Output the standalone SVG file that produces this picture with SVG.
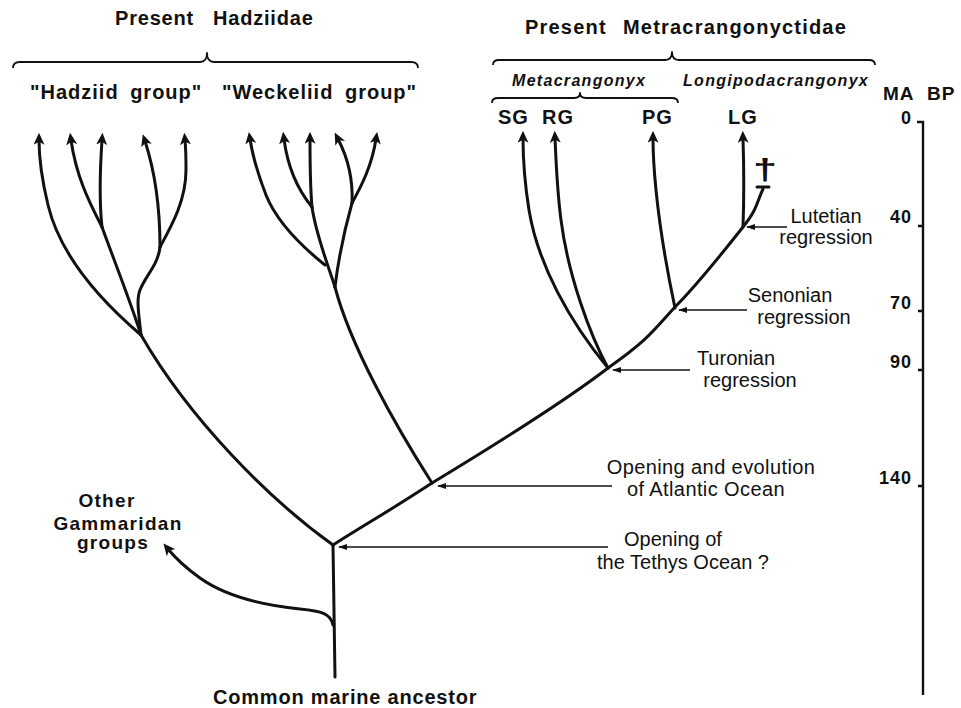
<svg xmlns="http://www.w3.org/2000/svg" width="961" height="708" viewBox="0 0 961 708">
  <defs>
    <style>
      .br { fill: none; stroke: #111; stroke-width: 3; stroke-linecap: round; stroke-linejoin: round; }
      .tip { marker-end: url(#head); }
      .ann { fill: none; stroke: #111; stroke-width: 1.6; marker-end: url(#small); }
      .brace { fill: none; stroke: #111; stroke-width: 1.8; stroke-linejoin: round; }
      .axis { fill: none; stroke: #111; stroke-width: 2.4; }
      .t { font-family: "Liberation Sans", Arial, sans-serif; fill: #111; }
      .b { font-weight: bold; }
      .lab { font-size: 20px; font-weight: bold; letter-spacing: 1px; word-spacing: 5px; }
      .note { font-size: 20px; text-anchor: middle; }
      .gen { font-size: 16px; font-weight: bold; font-style: italic; letter-spacing: 1.3px; }
      .tick { font-size: 18px; font-weight: bold; letter-spacing: 1px; text-anchor: end; }
    </style>
    <marker id="head" viewBox="0 0 10 10" refX="4" refY="5" markerWidth="12" markerHeight="11" markerUnits="userSpaceOnUse" orient="auto" preserveAspectRatio="none">
      <path d="M0,0 L10,5 L0,10 L2.5,5 z" fill="#111"/>
    </marker>
    <marker id="small" viewBox="0 0 10 10" refX="9" refY="5" markerWidth="9" markerHeight="6" markerUnits="userSpaceOnUse" orient="auto" preserveAspectRatio="none">
      <path d="M0,0 L10,5 L0,10 z" fill="#111"/>
    </marker>
  </defs>

  <rect width="961" height="708" fill="#fff"/>

  <!-- group headings and braces -->
  <g id="heading-hadziidae">
    <text class="t b" font-size="20" letter-spacing="0.8" x="115" y="25">Present</text>
    <text class="t b" font-size="20" letter-spacing="0.8" x="213" y="25">Hadziidae</text>
    <path class="brace" d="M13,68 Q13,62 20,62 L200,62 Q207,62 207,53 Q207,62 214,62 L411,62 Q418,62 418,68"/>
    <text class="t lab" x="30" y="99">"Hadziid group"</text>
    <text class="t lab" x="222" y="99">"Weckeliid group"</text>
  </g>

  <g id="heading-metacrangonyctidae">
    <text class="t b" font-size="20" letter-spacing="1.2" x="525" y="34">Present</text>
    <text class="t b" font-size="20" letter-spacing="1.2" x="623" y="34">Metracrangonyctidae</text>
    <path class="brace" d="M493,65 Q493,60 499,60 L665,60 Q672,60 672,52 Q672,60 679,60 L869,60 Q875,60 875,65"/>
    <text class="t gen" x="512" y="86">Metacrangonyx</text>
    <text class="t gen" x="683" y="86">Longipodacrangonyx</text>
    <path class="brace" d="M492,103 Q492,98 498,98 L574,98 Q580,98 580,93 Q580,98 586,98 L672,98 Q678,98 678,103"/>
    <text class="t lab" x="498" y="124">SG</text>
    <text class="t lab" x="542" y="124">RG</text>
    <text class="t lab" x="642" y="124">PG</text>
    <text class="t lab" x="728" y="124">LG</text>
  </g>

  <!-- time scale -->
  <g id="time-axis">
    <text class="t b" font-size="19" letter-spacing="1" x="883" y="100">MA</text>
    <text class="t b" font-size="19" letter-spacing="1" x="927" y="100">BP</text>
    <path class="axis" d="M917,122 L923,122 L923,695"/>
    <path class="axis" d="M918,226 L923,226 M918,311 L923,311 M918,370 L923,370 M918,486 L923,486"/>
    <text class="t tick" x="912" y="124">0</text>
    <text class="t tick" x="912" y="223">40</text>
    <text class="t tick" x="912" y="309">70</text>
    <text class="t tick" x="912" y="368">90</text>
    <text class="t tick" x="912" y="484">140</text>
  </g>

  <!-- phylogeny -->
  <g id="connectors">
    <!-- common stem and outgroup -->
    <path class="br" d="M335,677 L333,545"/>
    <path class="br tip" d="M333,625 C331,614 322,611 300,609 C262,605 225,596 200,578 C186,568 177,560 168,549"/>

    <!-- Hadziid group -->
    <path class="br" d="M333,545 C270,500 190,420 141,335"/>
    <path class="br tip" d="M141,335 C100,300 60,255 48,205 C42,180 39,160 39,140"/>
    <path class="br" d="M141,335 C130,300 112,255 102,227"/>
    <path class="br tip" d="M102,227 C88,200 76,175 71,140"/>
    <path class="br tip" d="M102,227 C99,200 100,170 102,140"/>
    <path class="br" d="M141,335 C139,315 136,300 140,290 C146,275 158,265 160,247"/>
    <path class="br tip" d="M160,247 C160,210 156,175 145,141"/>
    <path class="br tip" d="M160,247 C172,225 186,200 186,170 C186,160 186,150 185,140"/>

    <!-- Weckeliid group -->
    <path class="br" d="M432,483 C395,425 350,345 335,287"/>
    <path class="br" d="M335,287 C328,265 316,235 312,207"/>
    <path class="br tip" d="M325,265 C300,245 276,220 266,195 C259,177 253,158 250,139"/>
    <path class="br tip" d="M312,207 C298,190 288,170 284,139"/>
    <path class="br tip" d="M312,207 C310,185 310,165 310,139"/>
    <path class="br" d="M335,287 C338,262 345,228 352,203"/>
    <path class="br tip" d="M352,203 C353,182 350,162 338,139"/>
    <path class="br tip" d="M352,203 C362,185 372,165 376,139"/>

    <!-- Metacrangonyctidae lineage -->
    <path class="br" d="M333,545 C366,524 386,513 432,483 C470,460 560,405 608,368 C649,339 653,331 675,307 C698,284 728,246 743,227 C758,208 756,204 763,189"/>
    <path class="br" d="M757,187 L769,187" stroke-width="2.5"/>
    <path class="br tip" d="M608,368 C570,322 538,265 529,210 C525,185 523,160 523,138"/>
    <path class="br tip" d="M608,368 C590,335 568,275 561,220 C557,190 556,160 555,138"/>
    <path class="br tip" d="M675,308 C668,275 660,230 656,190 C654,170 653,155 653,138"/>
    <path class="br tip" d="M743,227 C744,200 744,170 743,138"/>

    <!-- event pointers -->
    <path class="ann" d="M787,227 L747,227"/>
    <path class="ann" d="M747,310 L679,310"/>
    <path class="ann" d="M690,370 L613,370"/>
    <path class="ann" d="M612,486 L438,486"/>
    <path class="ann" d="M608,547 L339,547"/>
  </g>

  <g id="extinct-mark">
    <text class="t b" font-size="24" text-anchor="middle" transform="translate(765,180) scale(1.8,1.25)">†</text>
  </g>

  <g id="label-outgroup">
    <text class="t b" font-size="19" letter-spacing="1.3" text-anchor="middle" x="107" y="507">Other</text>
    <text class="t b" font-size="19" letter-spacing="1.3" text-anchor="middle" x="118" y="530">Gammaridan</text>
    <text class="t b" font-size="19" letter-spacing="1.3" text-anchor="middle" x="113" y="549">groups</text>
  </g>

  <g id="label-ancestor">
    <text class="t b" font-size="20" letter-spacing="0.8" x="213" y="704">Common marine ancestor</text>
  </g>

  <g id="event-lutetian">
    <text class="t note" x="826" y="223">Lutetian</text>
    <text class="t note" x="826" y="244">regression</text>
  </g>
  <g id="event-senonian">
    <text class="t note" x="790" y="302">Senonian</text>
    <text class="t note" x="804" y="324">regression</text>
  </g>
  <g id="event-turonian">
    <text class="t note" x="736" y="365">Turonian</text>
    <text class="t note" x="750" y="387">regression</text>
  </g>
  <g id="event-atlantic">
    <text class="t note" x="711" y="474" letter-spacing="0.4">Opening and evolution</text>
    <text class="t note" x="706" y="496" letter-spacing="0.4">of Atlantic Ocean</text>
  </g>
  <g id="event-tethys">
    <text class="t note" x="673" y="546">Opening of</text>
    <text class="t note" x="683" y="569">the Tethys Ocean ?</text>
  </g>
</svg>
